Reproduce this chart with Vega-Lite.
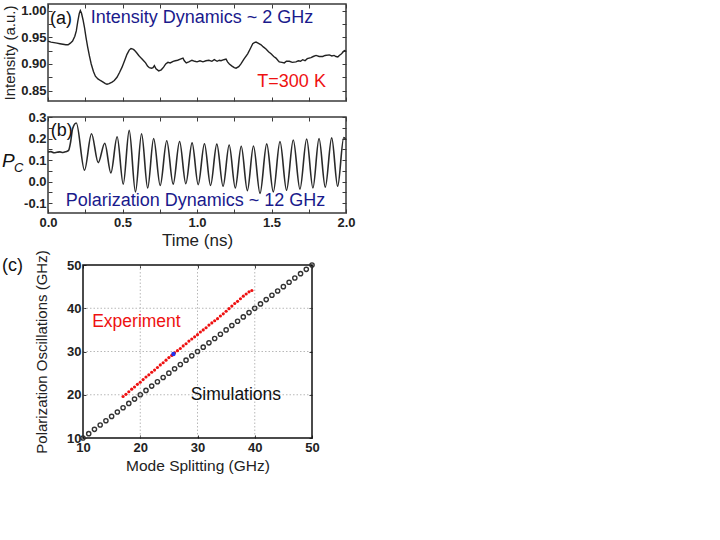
{
  "$schema": "https://vega.github.io/schema/vega-lite/v6.json",
  "background": "white",
  "padding": {"left": 1, "top": 2, "right": 5, "bottom": 5},
  "config": {
    "font": "Liberation Sans",
    "view": {"stroke": "#3a3a3a", "strokeWidth": 1.5},
    "axis": {
      "domain": false, "grid": false, "tickColor": "#3a3a3a", "tickSize": -4, "tickWidth": 1,
      "labelFont": "Liberation Sans", "labelFontWeight": "bold", "labelFontSize": 13, "labelColor": "#222",
      "labelOverlap": false, "labelFlush": false,
      "titleFont": "Liberation Sans", "titleFontWeight": "normal", "titleColor": "#222"
    },
    "axisX": {"labelPadding": 7},
    "axisY": {"labelPadding": 6}
  },
  "vconcat": [
    {
      "vconcat": [
        {
          "width": 298, "height": 97,
          "layer": [
            {
              "data": {"values": [
                {"t":0.0,"v":0.943},{"t":0.02,"v":0.941},{"t":0.04,"v":0.940},{"t":0.06,"v":0.939},{"t":0.08,"v":0.938},{"t":0.1,"v":0.937},{"t":0.12,"v":0.936},{"t":0.135,"v":0.936},{"t":0.15,"v":0.939},{"t":0.165,"v":0.943},{"t":0.18,"v":0.952},{"t":0.19,"v":0.962},{"t":0.2,"v":0.980},{"t":0.21,"v":0.995},{"t":0.217,"v":1.0},{"t":0.225,"v":0.995},{"t":0.235,"v":0.983},{"t":0.245,"v":0.968},{"t":0.255,"v":0.950},{"t":0.266,"v":0.932},{"t":0.278,"v":0.915},{"t":0.29,"v":0.900},{"t":0.305,"v":0.886},{"t":0.318,"v":0.877},{"t":0.335,"v":0.872},{"t":0.351,"v":0.869},{"t":0.37,"v":0.866},{"t":0.385,"v":0.863},{"t":0.396,"v":0.862},{"t":0.41,"v":0.863},{"t":0.43,"v":0.866},{"t":0.445,"v":0.869},{"t":0.463,"v":0.875},{"t":0.48,"v":0.884},{"t":0.497,"v":0.894},{"t":0.515,"v":0.907},{"t":0.53,"v":0.918},{"t":0.545,"v":0.926},{"t":0.557,"v":0.929},{"t":0.57,"v":0.928},{"t":0.579,"v":0.926},{"t":0.595,"v":0.921},{"t":0.609,"v":0.916},{"t":0.625,"v":0.911},{"t":0.642,"v":0.906},{"t":0.655,"v":0.902},{"t":0.668,"v":0.896},{"t":0.68,"v":0.893},{"t":0.695,"v":0.892},{"t":0.705,"v":0.893},{"t":0.714,"v":0.897},{"t":0.725,"v":0.891},{"t":0.743,"v":0.887},{"t":0.76,"v":0.889},{"t":0.776,"v":0.894},{"t":0.79,"v":0.900},{"t":0.805,"v":0.903},{"t":0.82,"v":0.902},{"t":0.84,"v":0.905},{"t":0.854,"v":0.906},{"t":0.87,"v":0.907},{"t":0.888,"v":0.909},{"t":0.906,"v":0.911},{"t":0.915,"v":0.906},{"t":0.928,"v":0.902},{"t":0.945,"v":0.904},{"t":0.966,"v":0.907},{"t":0.985,"v":0.905},{"t":1.0,"v":0.904},{"t":1.02,"v":0.906},{"t":1.04,"v":0.904},{"t":1.06,"v":0.906},{"t":1.08,"v":0.907},{"t":1.1,"v":0.905},{"t":1.116,"v":0.908},{"t":1.135,"v":0.905},{"t":1.15,"v":0.907},{"t":1.161,"v":0.906},{"t":1.18,"v":0.908},{"t":1.195,"v":0.909},{"t":1.205,"v":0.904},{"t":1.217,"v":0.900},{"t":1.235,"v":0.896},{"t":1.25,"v":0.893},{"t":1.262,"v":0.892},{"t":1.28,"v":0.895},{"t":1.295,"v":0.900},{"t":1.315,"v":0.909},{"t":1.34,"v":0.919},{"t":1.36,"v":0.930},{"t":1.374,"v":0.938},{"t":1.385,"v":0.940},{"t":1.396,"v":0.941},{"t":1.41,"v":0.939},{"t":1.43,"v":0.936},{"t":1.445,"v":0.932},{"t":1.463,"v":0.928},{"t":1.48,"v":0.923},{"t":1.497,"v":0.919},{"t":1.515,"v":0.914},{"t":1.53,"v":0.911},{"t":1.545,"v":0.906},{"t":1.552,"v":0.904},{"t":1.57,"v":0.903},{"t":1.586,"v":0.902},{"t":1.6,"v":0.905},{"t":1.62,"v":0.905},{"t":1.64,"v":0.903},{"t":1.664,"v":0.904},{"t":1.68,"v":0.906},{"t":1.695,"v":0.905},{"t":1.709,"v":0.908},{"t":1.725,"v":0.906},{"t":1.74,"v":0.910},{"t":1.765,"v":0.912},{"t":1.78,"v":0.914},{"t":1.799,"v":0.916},{"t":1.82,"v":0.914},{"t":1.844,"v":0.914},{"t":1.86,"v":0.916},{"t":1.888,"v":0.917},{"t":1.905,"v":0.915},{"t":1.92,"v":0.916},{"t":1.933,"v":0.914},{"t":1.945,"v":0.913},{"t":1.955,"v":0.916},{"t":1.97,"v":0.919},{"t":1.989,"v":0.925},{"t":2.0,"v":0.924}
              ]},
              "mark": {"type": "line", "color": "#222", "strokeWidth": 1.4},
              "encoding": {
                "x": {"field": "t", "type": "quantitative", "scale": {"domain": [0, 2], "nice": false, "zero": false},
                      "axis": {"orient": "bottom", "values": [0,0.25,0.5,0.75,1,1.25,1.5,1.75,2], "labels": false, "title": null}},
                "y": {"field": "v", "type": "quantitative", "scale": {"domain": [0.8305, 1.0125], "nice": false, "zero": false},
                      "axis": {"orient": "left", "values": [0.85,0.875,0.9,0.925,0.95,0.975,1.0],
                               "labelExpr": "round(datum.value*1000) % 50 == 0 ? format(datum.value, '.2f') : ''",
                               "title": "Intensity (a.u.)", "titleFontSize": 15, "titlePadding": 3}}
              }
            },
            {
              "data": {"values": [
                {"t": 0.013, "v": 0.9844, "label": "(a)", "kind": "panel"},
                {"t": 0.287, "v": 0.986, "label": "Intensity Dynamics ~ 2 GHz", "kind": "blue"},
                {"t": 1.405, "v": 0.867, "label": "T=300 K", "kind": "red"}
              ]},
              "mark": {"type": "text", "align": "left", "baseline": "middle", "fontSize": 18, "font": "Liberation Sans"},
              "encoding": {
                "x": {"field": "t", "type": "quantitative", "axis": {"orient": "top", "values": [0,0.25,0.5,0.75,1,1.25,1.5,1.75,2], "labels": false, "title": null}},
                "y": {"field": "v", "type": "quantitative", "axis": {"orient": "right", "values": [0.85,0.875,0.9,0.925,0.95,0.975,1.0], "labels": false, "title": null}},
                "text": {"field": "label"},
                "color": {"field": "kind", "type": "nominal", "legend": null,
                          "scale": {"domain": ["panel", "blue", "red"], "range": ["#111111", "#1a1a8c", "#ee1111"]}}
              }
            }
          ],
          "resolve": {"axis": {"x": "independent", "y": "independent"}}
        },
        {
          "width": 298, "height": 96,
          "layer": [
            {
              "data": {"values": [
                {"t":0.0,"v":0.137},{"t":0.02,"v":0.139},{"t":0.04,"v":0.134},{"t":0.06,"v":0.136},{"t":0.08,"v":0.138},{"t":0.1,"v":0.135},{"t":0.12,"v":0.139},{"t":0.138,"v":0.145},{"t":0.152,"v":0.185},{"t":0.165,"v":0.245},{"t":0.19,"v":0.272},{"t":0.245,"v":0.053},{"t":0.292,"v":0.222},{"t":0.337,"v":0.088},{"t":0.381,"v":0.178},{"t":0.422,"v":0.040},{"t":0.464,"v":0.208},{"t":0.505,"v":-0.012},{"t":0.545,"v":0.238},{"t":0.587,"v":-0.048},{"t":0.628,"v":0.222},{"t":0.669,"v":-0.030},{"t":0.709,"v":0.200},{"t":0.753,"v":-0.018},{"t":0.797,"v":0.190},{"t":0.84,"v":-0.012},{"t":0.883,"v":0.186},{"t":0.925,"v":-0.010},{"t":0.967,"v":0.180},{"t":1.008,"v":-0.014},{"t":1.05,"v":0.176},{"t":1.091,"v":-0.018},{"t":1.133,"v":0.174},{"t":1.175,"v":-0.022},{"t":1.216,"v":0.170},{"t":1.257,"v":-0.030},{"t":1.297,"v":0.164},{"t":1.338,"v":-0.042},{"t":1.379,"v":0.165},{"t":1.423,"v":-0.055},{"t":1.468,"v":0.175},{"t":1.512,"v":-0.048},{"t":1.557,"v":0.186},{"t":1.601,"v":-0.040},{"t":1.646,"v":0.193},{"t":1.691,"v":-0.035},{"t":1.736,"v":0.198},{"t":1.778,"v":-0.030},{"t":1.819,"v":0.200},{"t":1.861,"v":-0.026},{"t":1.904,"v":0.203},{"t":1.944,"v":-0.022},{"t":1.985,"v":0.205},{"t":2.0,"v":0.195}
              ]},
              "mark": {"type": "line", "color": "#2a2a2a", "strokeWidth": 1.6, "interpolate": "monotone"},
              "encoding": {
                "x": {"field": "t", "type": "quantitative", "scale": {"domain": [0, 2], "nice": false, "zero": false},
                      "axis": {"orient": "bottom", "values": [0,0.25,0.5,0.75,1,1.25,1.5,1.75,2],
                               "labelExpr": "datum.value % 0.5 == 0 ? format(datum.value, '.1f') : ''",
                               "title": "Time (ns)", "titleFontSize": 17, "titlePadding": 3}},
                "y": {"field": "v", "type": "quantitative", "scale": {"domain": [-0.146, 0.3], "nice": false, "zero": false},
                      "axis": {"orient": "left", "values": [-0.1,-0.05,0,0.05,0.1,0.15,0.2,0.25,0.3],
                               "labelExpr": "round(datum.value*100) % 10 == 0 ? (datum.value < 0 ? '-' + format(-datum.value, '.1f') : format(datum.value, '.1f')) : ''",
                               "title": null}}
              }
            },
            {
              "data": {"values": [
                {"t": 0.018, "v": 0.237, "label": "(b)", "kind": "panel"},
                {"t": 0.119, "v": -0.091, "label": "Polarization Dynamics ~ 12 GHz", "kind": "blue"}
              ]},
              "mark": {"type": "text", "align": "left", "baseline": "middle", "fontSize": 18, "font": "Liberation Sans"},
              "encoding": {
                "x": {"field": "t", "type": "quantitative", "axis": {"orient": "top", "values": [0,0.25,0.5,0.75,1,1.25,1.5,1.75,2], "labels": false, "title": null}},
                "y": {"field": "v", "type": "quantitative", "axis": {"orient": "right", "values": [-0.1,-0.05,0,0.05,0.1,0.15,0.2,0.25,0.3], "labels": false, "title": null}},
                "text": {"field": "label"},
                "color": {"field": "kind", "type": "nominal", "legend": null,
                          "scale": {"domain": ["panel", "blue"], "range": ["#111111", "#1a1a8c"]}}
              }
            },
            {
              "data": {"values": [{"t": -0.309, "v": 0.097, "label": "P"}]},
              "mark": {"type": "text", "align": "left", "baseline": "middle", "fontSize": 19, "fontStyle": "italic", "color": "#111"},
              "encoding": {
                "x": {"field": "t", "type": "quantitative", "axis": null},
                "y": {"field": "v", "type": "quantitative", "axis": null},
                "text": {"field": "label"}
              }
            },
            {
              "data": {"values": [{"t": -0.228, "v": 0.062, "label": "C"}]},
              "mark": {"type": "text", "align": "left", "baseline": "middle", "fontSize": 13, "fontStyle": "italic", "color": "#111"},
              "encoding": {
                "x": {"field": "t", "type": "quantitative", "axis": null},
                "y": {"field": "v", "type": "quantitative", "axis": null},
                "text": {"field": "label"}
              }
            }
          ],
          "resolve": {"axis": {"x": "independent", "y": "independent"}}
        }
      ],
      "spacing": 7
    },
    {
      "width": 264, "height": 173,
      "view": {"stroke": null},
      "layer": [
        {
          "data": {"values": [{"g": 20}, {"g": 30}, {"g": 40}]},
          "mark": {"type": "rule", "color": "#b8b8b8", "strokeWidth": 1, "strokeDash": [1.5, 2]},
          "encoding": {
            "x": {"field": "g", "type": "quantitative", "scale": {"domain": [3.886, 50], "nice": false, "zero": false},
                  "axis": {"orient": "bottom", "values": [10,20,30,40,50], "tickSize": -3, "labelPadding": 6,
                           "title": "Mode Splitting (GHz)", "titleFontSize": 15.5, "titlePadding": 4, "titleX": 149.5, "titleAlign": "center"}},
            "y": {"datum": 10, "type": "quantitative", "scale": {"domain": [10, 50], "nice": false, "zero": false},
                  "axis": {"orient": "left", "offset": -35, "values": [10,20,30,40,50], "tickSize": -3, "labelPadding": 5,
                           "title": "Polarization Oscillations (GHz)", "titleFontSize": 15, "titlePadding": 17}},
            "y2": {"datum": 50}
          }
        },
        {
          "data": {"values": [{"g": 20}, {"g": 30}, {"g": 40}]},
          "mark": {"type": "rule", "color": "#b8b8b8", "strokeWidth": 1, "strokeDash": [1.5, 2]},
          "encoding": {
            "y": {"field": "g", "type": "quantitative", "axis": null},
            "x": {"datum": 10, "type": "quantitative", "axis": null},
            "x2": {"datum": 50}
          }
        },
        {
          "data": {"values": [{"x1": 10, "x2": 50, "y1": 10, "y2": 50}]},
          "mark": {"type": "rect", "fill": null, "fillOpacity": 0, "stroke": "#111", "strokeWidth": 1.5},
          "encoding": {
            "x": {"field": "x1", "type": "quantitative", "axis": null},
            "x2": {"field": "x2"},
            "y": {"field": "y1", "type": "quantitative", "axis": null},
            "y2": {"field": "y2"}
          }
        },
        {
          "data": {"values": [
            {"ms":10,"po":10},{"ms":11,"po":11},{"ms":12,"po":12},{"ms":13,"po":13},{"ms":14,"po":14},{"ms":15,"po":15},{"ms":16,"po":16},{"ms":17,"po":17},{"ms":18,"po":18},{"ms":19,"po":19},{"ms":20,"po":20},{"ms":21,"po":21},{"ms":22,"po":22},{"ms":23,"po":23},{"ms":24,"po":24},{"ms":25,"po":25},{"ms":26,"po":26},{"ms":27,"po":27},{"ms":28,"po":28},{"ms":29,"po":29},{"ms":30,"po":30},{"ms":31,"po":31},{"ms":32,"po":32},{"ms":33,"po":33},{"ms":34,"po":34},{"ms":35,"po":35},{"ms":36,"po":36},{"ms":37,"po":37},{"ms":38,"po":38},{"ms":39,"po":39},{"ms":40,"po":40},{"ms":41,"po":41},{"ms":42,"po":42},{"ms":43,"po":43},{"ms":44,"po":44},{"ms":45,"po":45},{"ms":46,"po":46},{"ms":47,"po":47},{"ms":48,"po":48},{"ms":49,"po":49},{"ms":50,"po":50}
          ]},
          "mark": {"type": "point", "shape": "circle", "filled": false, "stroke": "#333", "strokeWidth": 1.4, "size": 18, "opacity": 1},
          "encoding": {
            "x": {"field": "ms", "type": "quantitative", "axis": null},
            "y": {"field": "po", "type": "quantitative", "axis": null}
          }
        },
        {
          "data": {"values": [
            {"ms":17.0,"po":19.6},{"ms":17.5,"po":20.1},{"ms":18.0,"po":20.7},{"ms":18.5,"po":21.3},{"ms":19.0,"po":21.8},{"ms":19.5,"po":22.4},{"ms":20.0,"po":22.9},{"ms":20.5,"po":23.5},{"ms":21.0,"po":24.1},{"ms":21.5,"po":24.6},{"ms":22.0,"po":25.2},{"ms":22.5,"po":25.7},{"ms":23.0,"po":26.3},{"ms":23.5,"po":26.9},{"ms":24.0,"po":27.4},{"ms":24.5,"po":28.0},{"ms":25.0,"po":28.6},{"ms":25.5,"po":29.1},{"ms":26.0,"po":29.7},{"ms":26.5,"po":30.2},{"ms":27.0,"po":30.7},{"ms":27.5,"po":31.3},{"ms":28.0,"po":31.8},{"ms":28.5,"po":32.4},{"ms":29.0,"po":32.9},{"ms":29.5,"po":33.4},{"ms":30.0,"po":33.9},{"ms":30.5,"po":34.5},{"ms":31.0,"po":35.0},{"ms":31.5,"po":35.5},{"ms":32.0,"po":36.1},{"ms":32.5,"po":36.6},{"ms":33.0,"po":37.1},{"ms":33.5,"po":37.6},{"ms":34.0,"po":38.2},{"ms":34.5,"po":38.7},{"ms":35.0,"po":39.3},{"ms":35.5,"po":39.9},{"ms":36.0,"po":40.5},{"ms":36.5,"po":41.1},{"ms":37.0,"po":41.6},{"ms":37.5,"po":42.2},{"ms":38.0,"po":42.8},{"ms":38.5,"po":43.3},{"ms":39.0,"po":43.8},{"ms":39.5,"po":44.1}
          ]},
          "mark": {"type": "point", "shape": "circle", "filled": true, "color": "#ee1111", "opacity": 1, "size": 10},
          "encoding": {
            "x": {"field": "ms", "type": "quantitative", "axis": null},
            "y": {"field": "po", "type": "quantitative", "axis": null}
          }
        },
        {
          "data": {"values": [{"ms": 25.8, "po": 29.4}]},
          "mark": {"type": "point", "shape": "circle", "filled": true, "color": "#2233ee", "opacity": 1, "size": 20},
          "encoding": {
            "x": {"field": "ms", "type": "quantitative", "axis": null},
            "y": {"field": "po", "type": "quantitative", "axis": null}
          }
        },
        {
          "data": {"values": [
            {"ms": 11.6, "po": 36.9, "label": "Experiment", "kind": "red"},
            {"ms": 28.8, "po": 19.9, "label": "Simulations", "kind": "black"}
          ]},
          "mark": {"type": "text", "align": "left", "baseline": "middle", "fontSize": 17.5, "font": "Liberation Sans"},
          "encoding": {
            "x": {"field": "ms", "type": "quantitative", "axis": {"orient": "top", "values": [10,20,30,40,50], "labels": false, "title": null, "tickSize": -3}},
            "y": {"field": "po", "type": "quantitative", "axis": {"orient": "right", "values": [10,20,30,40,50], "labels": false, "title": null, "tickSize": -3}},
            "text": {"field": "label"},
            "color": {"field": "kind", "type": "nominal", "legend": null,
                      "scale": {"domain": ["red", "black"], "range": ["#e81010", "#111111"]}}
          }
        },
        {
          "data": {"values": [{"ms": -4.15, "po": 49.7, "label": "(c)"}]},
          "mark": {"type": "text", "align": "left", "baseline": "middle", "fontSize": 18, "color": "#111"},
          "encoding": {
            "x": {"field": "ms", "type": "quantitative", "axis": null},
            "y": {"field": "po", "type": "quantitative", "axis": null},
            "text": {"field": "label"}
          }
        }
      ],
      "resolve": {"axis": {"x": "independent", "y": "independent"}}
    }
  ],
  "spacing": 0
}
